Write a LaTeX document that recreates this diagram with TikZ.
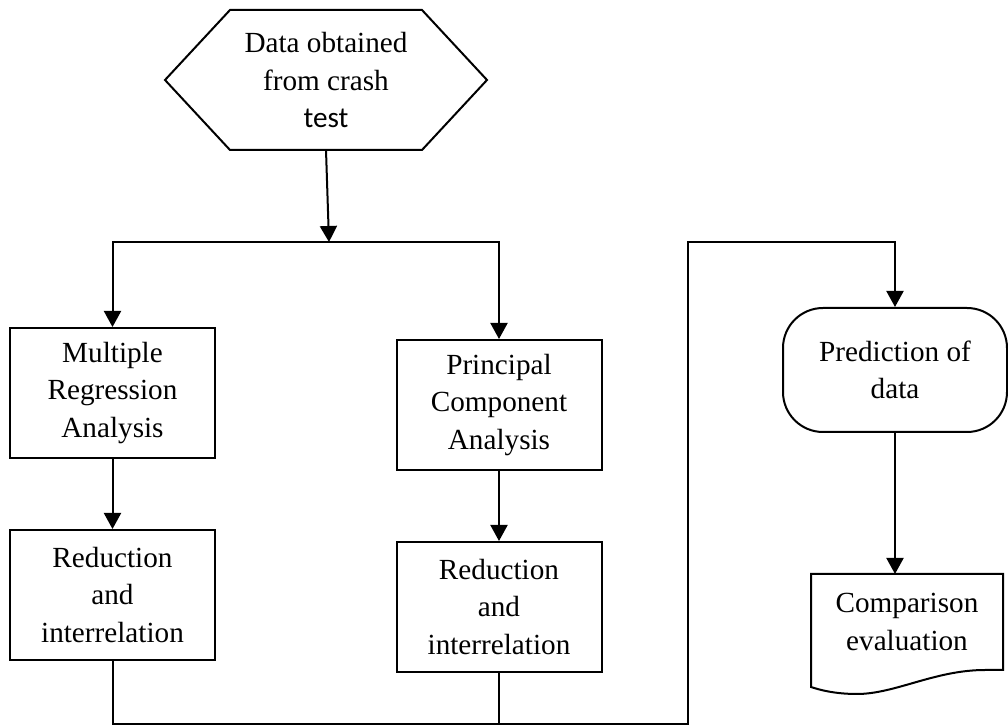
\documentclass[tikz,border=0pt]{standalone}
\usepackage{fontspec}
\setmainfont{Liberation Serif}
\newfontfamily\calibri{Carlito}
\usetikzlibrary{arrows.meta}
\usetikzlibrary{positioning}

\begin{document}
\begin{tikzpicture}
    [x=0.5pt, y=-0.5pt,
      % style for the text of all nodes
      every node/.style={font=\fontsize{14.6}{18.7}\selectfont},
      % process boxes
      proc/.style={rectangle, draw, minimum width=102.5pt, minimum height=65pt, align=center},
      % terminal (rounded) box
      term/.style={rectangle, draw, rounded corners=20pt, minimum width=112pt, minimum height=62pt, align=center},
      % hexagon and document: outline drawn by hand
      prep/.style={rectangle, minimum width=161pt, minimum height=70pt, outer sep=0pt, align=center},
      docu/.style={rectangle, minimum width=96pt, minimum height=48pt, outer sep=0pt, align=center},
      line width=1pt, >={Triangle[length=8pt,width=8.5pt]},
      node distance=35pt]
    \useasboundingbox (0,0) rectangle (1008,726);

    % nodes
    \node[prep] (src) at (326,80) {Data obtained\\from crash\\{\calibri test}};
    \draw (src.west) -- ([xshift=32.5pt]src.north west) -- ([xshift=-32.5pt]src.north east)
      -- (src.east) -- ([xshift=-32.5pt]src.south east) -- ([xshift=32.5pt]src.south west) -- cycle;

    \node[proc] (mra) at (112.5,393) {Multiple\\Regression\\Analysis};
    \node[proc, below=of mra] (red1) {Reduction\\and\\interrelation};
    \node[proc] (pca) at (499,405) {Principal\\Component\\Analysis};
    \node[proc, below=of pca] (red2) {Reduction\\and\\interrelation};

    \node[term] (pred) at (895,370) {Prediction of\\data};
    \node[docu] (cmp) at (907,622) {Comparison\\evaluation};
    \draw (cmp.north west) -- (cmp.north east) -- (cmp.south east) -- (985,670)
      .. controls (935,670) and (895,694) .. (857,694)
      .. controls (835,694) and (820,690) .. (811,687) -- cycle;

    \coordinate (split) at (329,242);
    \coordinate (bend) at (688,724);
    \coordinate (turn) at (688,242);

    % connectors
    \draw[->] (src.south) -- (split);
    \draw[->] (split) -| (mra);
    \draw[->] (split) -| (pca);
    \path[->]
      (mra) edge (red1)
      (pca) edge (red2);
    \draw[->] (red1.south) |- (bend) -- (turn) -| (pred.north);
    \draw (red2.south) -- (red2.south |- bend);
    \draw[->] (pred.south) -- (pred.south |- cmp.north);
\end{tikzpicture}
\end{document}
